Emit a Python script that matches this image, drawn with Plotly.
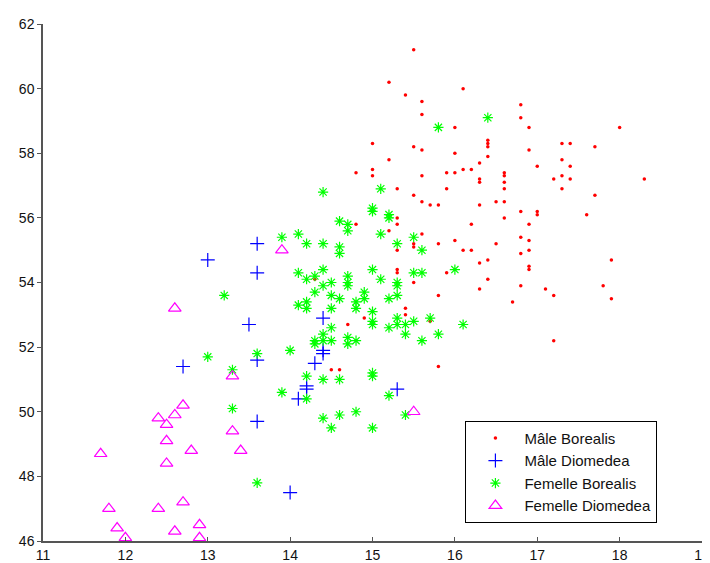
import plotly.graph_objects as go

# Mâle Borealis
mb_x = [15.5, 15.2, 16.1, 15.4, 15.6, 16.8, 15.6, 16.8, 16.0, 16.9, 18.0, 15.0, 15.5, 15.6, 16.0,
        16.4, 16.4, 16.4, 16.9, 17.3, 17.4, 17.7, 15.2, 16.4, 17.3, 16.3, 17.0, 17.4, 14.8, 15.0,
        15.0, 15.6, 15.9, 16.0, 16.1, 16.2, 16.6, 16.6, 16.6, 16.6, 16.3, 16.3, 17.3, 17.4, 17.2,
        17.3, 18.3, 15.3, 15.9, 17.7, 15.5, 15.6, 15.7, 15.8, 16.3, 16.5, 16.6, 16.8, 17.0, 17.0,
        17.6, 16.6, 15.3, 15.3, 14.8, 16.2, 16.9, 15.2, 15.6, 16.8, 16.9, 15.5, 15.5, 15.3, 15.8,
        16.0, 16.1, 16.2, 16.5, 16.8, 16.9, 16.3, 16.4, 16.9, 16.9, 17.9, 15.3, 15.3, 15.9, 15.5,
        16.4, 16.8, 16.3, 17.1, 17.8, 15.8, 17.2, 16.7, 17.9, 15.4, 15.4, 14.9, 15.7, 17.2, 15.8,
        14.7, 14.5, 14.6, 14.3]
mb_y = [61.2, 60.2, 60.0, 59.8, 59.6, 59.5, 59.2, 59.1, 58.8, 58.8, 58.8, 58.3, 58.2, 58.1, 58.0,
        58.4, 58.3, 58.2, 58.1, 58.3, 58.3, 58.2, 57.8, 57.9, 57.8, 57.7, 57.6, 57.6, 57.4, 57.5,
        57.3, 57.3, 57.4, 57.4, 57.5, 57.5, 57.4, 57.3, 57.1, 56.9, 57.2, 57.1, 57.3, 57.2, 57.2,
        56.9, 57.2, 56.9, 56.9, 56.7, 56.7, 56.5, 56.4, 56.4, 56.4, 56.5, 56.5, 56.2, 56.2, 56.1,
        56.1, 56.0, 56.0, 55.8, 55.8, 55.8, 55.8, 55.6, 55.5, 55.4, 55.3, 55.2, 55.1, 55.0, 55.2,
        55.3, 55.0, 55.0, 55.2, 54.9, 55.0, 54.6, 54.7, 54.5, 54.4, 54.7, 54.4, 54.3, 54.3, 54.0,
        54.1, 53.9, 53.8, 53.8, 53.9, 53.6, 53.6, 53.4, 53.5, 53.2, 53.0, 52.9, 52.8, 52.2, 51.4,
        52.7, 51.3, 51.3, 54.1]

# Mâle Diomedea
md_x = [13.5, 14.4, 12.7, 13.6, 14.4, 14.4, 14.3, 14.2, 14.2, 14.1, 13.6, 14.0, 13.0, 13.6, 13.6, 15.3]
md_y = [52.7, 52.9, 51.4, 51.6, 51.9, 51.8, 51.5, 50.8, 50.7, 50.4, 49.7, 47.5, 54.7, 55.2, 54.3, 50.7]

# Femelle Borealis
fb_x = [16.4, 15.8, 14.4, 15.1, 15.0, 15.0, 15.2, 15.2, 14.6, 14.7, 14.7, 14.1, 15.1, 15.5, 13.9,
        14.2, 14.4, 14.6, 14.6, 15.3, 15.6, 14.1, 14.4, 14.2, 14.3, 14.4, 14.5, 14.7, 14.7, 14.7,
        14.3, 14.5, 14.9, 15.0, 15.1, 15.3, 15.3, 15.5, 15.6, 16.0, 15.3, 13.2, 14.6, 14.8, 14.8,
        14.9, 15.2, 14.1, 14.2, 14.2, 14.5, 15.0, 15.0, 15.0, 15.3, 15.3, 15.2, 15.4, 15.5, 15.7,
        16.1, 14.5, 14.4, 15.4, 15.6, 15.8, 14.8, 14.3, 14.3, 14.4, 14.5, 14.7, 14.7, 14.0, 13.6,
        13.0, 13.3, 14.2, 14.4, 14.6, 15.0, 15.0, 13.9, 14.2, 15.2, 13.3, 14.8, 14.6, 15.4, 14.4,
        14.5, 15.0, 13.6]
fb_y = [59.1, 58.8, 56.8, 56.9, 56.3, 56.2, 56.1, 56.0, 55.9, 55.8, 55.6, 55.5, 55.5, 55.4, 55.4,
        55.2, 55.2, 55.1, 54.9, 55.2, 55.0, 54.3, 54.4, 54.1, 54.2, 53.9, 54.0, 54.2, 54.0, 53.9,
        53.7, 53.6, 53.7, 54.4, 54.1, 54.0, 53.9, 54.3, 54.3, 54.4, 53.6, 53.6, 53.5, 53.4, 53.2,
        53.5, 53.5, 53.3, 53.4, 53.2, 53.2, 53.1, 52.8, 52.7, 52.9, 52.7, 52.6, 52.7, 52.8, 52.9,
        52.7, 52.6, 52.4, 52.4, 52.2, 52.4, 52.2, 52.2, 52.1, 52.2, 52.2, 52.3, 52.1, 51.9, 51.8,
        51.7, 51.3, 51.1, 51.0, 51.0, 51.2, 51.1, 50.6, 50.4, 50.5, 50.1, 50.0, 49.9, 49.9, 49.8,
        49.5, 49.5, 47.8]

# Femelle Diomedea
fd_x = [12.6, 13.3, 12.7, 12.4, 12.6, 12.5, 13.3, 12.5, 12.8, 13.4, 11.7, 12.5, 12.7, 11.8, 12.4,
        12.9, 11.9, 12.6, 12.0, 12.9, 13.9, 15.5]
fd_y = [53.2, 51.1, 50.2, 49.8, 49.9, 49.6, 49.4, 49.1, 48.8, 48.8, 48.7, 48.4, 47.2, 47.0, 47.0,
        46.5, 46.4, 46.3, 46.1, 46.1, 55.0, 50.0]

names = ["Mâle Borealis", "Mâle Diomedea", "Femelle Borealis", "Femelle Diomedea"]
x_ticks = [11, 12, 13, 14, 15, 16, 17, 18, 19]
y_ticks = [46, 48, 50, 52, 54, 56, 58, 60, 62]

fig = go.Figure()
fig.add_trace(go.Scatter(x=mb_x, y=mb_y, mode="markers", name=names[0], cliponaxis=False,
                         marker=dict(symbol="circle", size=3.5, color="#ff0000", line=dict(width=0))))
fig.add_trace(go.Scatter(x=md_x, y=md_y, mode="markers", name=names[1], cliponaxis=False,
                         marker=dict(symbol="cross-thin", size=10, color="#0000ff",
                                     line=dict(width=1.2, color="#0000ff"))))
fig.add_trace(go.Scatter(x=fb_x, y=fb_y, mode="markers", name=names[2], cliponaxis=False,
                         marker=dict(symbol="asterisk", size=8.5, color="#00ff00",
                                     line=dict(width=1.2, color="#00ff00"))))
fig.add_trace(go.Scatter(x=fd_x, y=fd_y, mode="markers", name=names[3], cliponaxis=False,
                         marker=dict(symbol="triangle-up-open", size=11, color="#ff00ff",
                                     line=dict(width=1.2, color="#ff00ff"))))

axis_common = dict(showgrid=False, zeroline=False, showline=True, linecolor="#555555",
                   linewidth=1.5, ticklen=4, tickcolor="#555555", mirror=False,
                   tickfont=dict(family="Liberation Sans, Arial, sans-serif", size=14, color="#111111"))

fig.update_xaxes(range=[11, 19], tickmode="array", tickvals=x_ticks, ticks="inside", **axis_common)
fig.update_yaxes(range=[46, 62], tickmode="array", tickvals=y_ticks, ticks="outside", **axis_common)

fig.update_layout(
    width=710, height=563,
    margin=dict(l=35, r=8, t=14, b=23),
    paper_bgcolor="white", plot_bgcolor="white",
    font=dict(family="Liberation Sans, Arial, sans-serif", size=14, color="#111111"),
    legend=dict(x=0.641, y=0.2325, xanchor="left", yanchor="top",
                bgcolor="white", bordercolor="black", borderwidth=1,
                font=dict(size=15), itemwidth=48, tracegroupgap=0),
)

fig.write_html("out.html")
